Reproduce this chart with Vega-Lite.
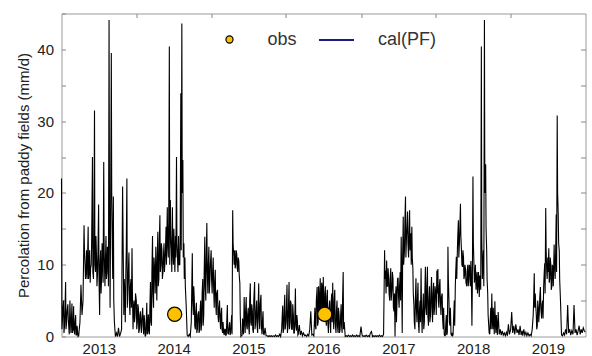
{
"$schema": "https://vega.github.io/schema/vega-lite/v6.json",
"width": 524, "height": 323,
"autosize": {"type": "none"},
"padding": {"left": 61.5, "top": 13.5, "right": 6.5, "bottom": 19.5},
"background": "white",
"config": {
  "view": {"stroke": "#9a9a9a", "strokeWidth": 1},
  "font": "Liberation Sans",
  "axis": {"labelFont": "Liberation Sans", "titleFont": "Liberation Sans", "labelColor": "#222", "titleColor": "#222", "tickColor": "#888", "domain": false, "grid": false}
},
"datasets": {
"cal": [
{"date":"2013-01-01","perc":22},{"date":"2013-01-06","perc":2.5},{"date":"2013-01-11","perc":5},{"date":"2013-01-16","perc":1.5},{"date":"2013-01-21","perc":7.6},{"date":"2013-01-26","perc":2},
{"date":"2013-02-01","perc":4.5},{"date":"2013-02-06","perc":1},{"date":"2013-02-11","perc":5},{"date":"2013-02-16","perc":0.5},{"date":"2013-02-21","perc":4.6},{"date":"2013-02-26","perc":1},
{"date":"2013-03-01","perc":4.2},{"date":"2013-03-06","perc":0.3},{"date":"2013-03-11","perc":3},{"date":"2013-03-16","perc":0.2},{"date":"2013-03-21","perc":0.5},{"date":"2013-03-26","perc":0.1},
{"date":"2013-04-01","perc":2},{"date":"2013-04-06","perc":7.2},{"date":"2013-04-11","perc":3},{"date":"2013-04-16","perc":5},{"date":"2013-04-21","perc":15.5},{"date":"2013-04-26","perc":10},
{"date":"2013-05-01","perc":9},{"date":"2013-05-06","perc":8},{"date":"2013-05-11","perc":15.3},{"date":"2013-05-16","perc":9},{"date":"2013-05-21","perc":7.5},{"date":"2013-05-26","perc":10},
{"date":"2013-06-01","perc":25},{"date":"2013-06-06","perc":8},{"date":"2013-06-11","perc":31.5},{"date":"2013-06-16","perc":9},{"date":"2013-06-21","perc":11},{"date":"2013-06-26","perc":9},
{"date":"2013-07-01","perc":18.4},{"date":"2013-07-06","perc":3},{"date":"2013-07-11","perc":12},{"date":"2013-07-16","perc":8.5},{"date":"2013-07-21","perc":10},{"date":"2013-07-26","perc":24.3},
{"date":"2013-08-01","perc":7},{"date":"2013-08-06","perc":14},{"date":"2013-08-11","perc":9},{"date":"2013-08-16","perc":11},{"date":"2013-08-21","perc":44.1},{"date":"2013-08-26","perc":4},
{"date":"2013-09-01","perc":39.5},{"date":"2013-09-06","perc":12},{"date":"2013-09-11","perc":19.5},{"date":"2013-09-16","perc":2},{"date":"2013-09-21","perc":0},{"date":"2013-09-26","perc":0.5},
{"date":"2013-10-01","perc":0},{"date":"2013-10-06","perc":1.2},{"date":"2013-10-11","perc":0},{"date":"2013-10-16","perc":0.4},{"date":"2013-10-21","perc":1},{"date":"2013-10-26","perc":20.9},
{"date":"2013-11-01","perc":3},{"date":"2013-11-06","perc":6},{"date":"2013-11-11","perc":9},{"date":"2013-11-16","perc":22},{"date":"2013-11-21","perc":7},{"date":"2013-11-26","perc":11.7},
{"date":"2013-12-01","perc":3},{"date":"2013-12-06","perc":8},{"date":"2013-12-11","perc":12.3},{"date":"2013-12-16","perc":1},{"date":"2013-12-21","perc":5},{"date":"2013-12-26","perc":3},
{"date":"2014-01-01","perc":5},{"date":"2014-01-06","perc":2},{"date":"2014-01-11","perc":4},{"date":"2014-01-16","perc":1},{"date":"2014-01-21","perc":3.5},{"date":"2014-01-26","perc":0.5},
{"date":"2014-02-01","perc":4},{"date":"2014-02-06","perc":0.3},{"date":"2014-02-11","perc":2},{"date":"2014-02-16","perc":0.2},{"date":"2014-02-21","perc":4.7},{"date":"2014-02-26","perc":0.5},
{"date":"2014-03-01","perc":3},{"date":"2014-03-06","perc":0.3},{"date":"2014-03-11","perc":7.6},{"date":"2014-03-16","perc":1.5},{"date":"2014-03-21","perc":14},{"date":"2014-03-26","perc":4},
{"date":"2014-04-01","perc":9},{"date":"2014-04-06","perc":12.5},{"date":"2014-04-11","perc":5},{"date":"2014-04-16","perc":14.6},{"date":"2014-04-21","perc":8},{"date":"2014-04-26","perc":16.9},
{"date":"2014-05-01","perc":10},{"date":"2014-05-06","perc":12},{"date":"2014-05-11","perc":9},{"date":"2014-05-16","perc":13},{"date":"2014-05-21","perc":10.5},{"date":"2014-05-26","perc":15.3},
{"date":"2014-06-01","perc":18},{"date":"2014-06-06","perc":11},{"date":"2014-06-11","perc":40.4},{"date":"2014-06-16","perc":19},{"date":"2014-06-21","perc":12},{"date":"2014-06-26","perc":18},
{"date":"2014-07-01","perc":10},{"date":"2014-07-06","perc":11.5},{"date":"2014-07-11","perc":14},{"date":"2014-07-16","perc":25},{"date":"2014-07-21","perc":11},{"date":"2014-07-26","perc":14},
{"date":"2014-08-01","perc":10},{"date":"2014-08-06","perc":33.9},{"date":"2014-08-11","perc":43.6},{"date":"2014-08-16","perc":24.6},{"date":"2014-08-21","perc":13},{"date":"2014-08-26","perc":11},
{"date":"2014-09-01","perc":4.5},{"date":"2014-09-06","perc":0.2},{"date":"2014-09-11","perc":0},{"date":"2014-09-16","perc":0.3},{"date":"2014-09-21","perc":0},{"date":"2014-09-26","perc":2},
{"date":"2014-10-01","perc":11.6},{"date":"2014-10-06","perc":3},{"date":"2014-10-11","perc":5},{"date":"2014-10-16","perc":1},{"date":"2014-10-21","perc":4.7},{"date":"2014-10-26","perc":1},
{"date":"2014-11-01","perc":3.5},{"date":"2014-11-06","perc":1},{"date":"2014-11-11","perc":5},{"date":"2014-11-16","perc":2},{"date":"2014-11-21","perc":8},{"date":"2014-11-26","perc":3},
{"date":"2014-12-01","perc":13.9},{"date":"2014-12-06","perc":5},{"date":"2014-12-11","perc":15.8},{"date":"2014-12-16","perc":6},{"date":"2014-12-21","perc":12.5},{"date":"2014-12-26","perc":8},
{"date":"2015-01-01","perc":12},{"date":"2015-01-06","perc":6},{"date":"2015-01-11","perc":11},{"date":"2015-01-16","perc":4},{"date":"2015-01-21","perc":9.3},{"date":"2015-01-26","perc":3},
{"date":"2015-02-01","perc":6.5},{"date":"2015-02-06","perc":2},{"date":"2015-02-11","perc":5},{"date":"2015-02-16","perc":1},{"date":"2015-02-21","perc":4},{"date":"2015-02-26","perc":0.5},
{"date":"2015-03-01","perc":1.5},{"date":"2015-03-06","perc":0.2},{"date":"2015-03-11","perc":1},{"date":"2015-03-16","perc":0.3},{"date":"2015-03-21","perc":4.4},{"date":"2015-03-26","perc":0.3},
{"date":"2015-04-01","perc":2},{"date":"2015-04-06","perc":0.5},{"date":"2015-04-11","perc":3},{"date":"2015-04-16","perc":17.6},{"date":"2015-04-21","perc":11.5},{"date":"2015-04-26","perc":12},
{"date":"2015-05-01","perc":10},{"date":"2015-05-06","perc":11.5},{"date":"2015-05-11","perc":9},{"date":"2015-05-16","perc":10.5},{"date":"2015-05-21","perc":7.4},{"date":"2015-05-26","perc":0},
{"date":"2015-06-01","perc":0.2},{"date":"2015-06-06","perc":1},{"date":"2015-06-11","perc":5.5},{"date":"2015-06-16","perc":0.5},{"date":"2015-06-21","perc":5.5},{"date":"2015-06-26","perc":1},
{"date":"2015-07-01","perc":4},{"date":"2015-07-06","perc":0.3},{"date":"2015-07-11","perc":7.4},{"date":"2015-07-16","perc":1.5},{"date":"2015-07-21","perc":3.5},{"date":"2015-07-26","perc":0.5},
{"date":"2015-08-01","perc":7.6},{"date":"2015-08-06","perc":2},{"date":"2015-08-11","perc":5},{"date":"2015-08-16","perc":0.5},{"date":"2015-08-21","perc":7.4},{"date":"2015-08-26","perc":1},
{"date":"2015-09-01","perc":5.8},{"date":"2015-09-06","perc":0.3},{"date":"2015-09-11","perc":3.5},{"date":"2015-09-16","perc":0.2},{"date":"2015-09-21","perc":1.2},{"date":"2015-09-26","perc":0.1},
{"date":"2015-10-01","perc":0.1},{"date":"2015-10-06","perc":0},{"date":"2015-10-11","perc":0.1},{"date":"2015-10-16","perc":0},{"date":"2015-10-21","perc":0.1},{"date":"2015-10-26","perc":0},
{"date":"2015-11-01","perc":0.1},{"date":"2015-11-06","perc":0},{"date":"2015-11-11","perc":0.2},{"date":"2015-11-16","perc":0},{"date":"2015-11-21","perc":0.1},{"date":"2015-11-26","perc":0},
{"date":"2015-12-01","perc":0.3},{"date":"2015-12-06","perc":0},{"date":"2015-12-11","perc":1},{"date":"2015-12-16","perc":4.3},{"date":"2015-12-21","perc":1},{"date":"2015-12-26","perc":5.8},
{"date":"2016-01-01","perc":2},{"date":"2016-01-06","perc":7.2},{"date":"2016-01-11","perc":1.5},{"date":"2016-01-16","perc":7.6},{"date":"2016-01-21","perc":2},{"date":"2016-01-26","perc":4.6},
{"date":"2016-02-01","perc":1},{"date":"2016-02-06","perc":3},{"date":"2016-02-11","perc":0.5},{"date":"2016-02-16","perc":6.7},{"date":"2016-02-21","perc":0.8},{"date":"2016-02-26","perc":2},
{"date":"2016-03-01","perc":0.3},{"date":"2016-03-06","perc":1.6},{"date":"2016-03-11","perc":0.2},{"date":"2016-03-16","perc":0.8},{"date":"2016-03-21","perc":0.1},{"date":"2016-03-26","perc":0.5},
{"date":"2016-04-01","perc":0.1},{"date":"2016-04-06","perc":0.2},{"date":"2016-04-11","perc":0},{"date":"2016-04-16","perc":0.3},{"date":"2016-04-21","perc":0.1},{"date":"2016-04-26","perc":1},
{"date":"2016-05-01","perc":3.5},{"date":"2016-05-06","perc":0.2},{"date":"2016-05-11","perc":0.3},{"date":"2016-05-16","perc":0.1},{"date":"2016-05-21","perc":4},{"date":"2016-05-26","perc":1},
{"date":"2016-06-01","perc":6.9},{"date":"2016-06-06","perc":2},{"date":"2016-06-11","perc":5},{"date":"2016-06-16","perc":8.1},{"date":"2016-06-21","perc":3},{"date":"2016-06-26","perc":6.9},
{"date":"2016-07-01","perc":8.3},{"date":"2016-07-06","perc":2},{"date":"2016-07-11","perc":7},{"date":"2016-07-16","perc":1.5},{"date":"2016-07-21","perc":6.5},{"date":"2016-07-26","perc":0.5},
{"date":"2016-08-01","perc":5},{"date":"2016-08-06","perc":0.5},{"date":"2016-08-11","perc":6},{"date":"2016-08-16","perc":7.5},{"date":"2016-08-21","perc":1},{"date":"2016-08-26","perc":6.5},
{"date":"2016-09-01","perc":0.5},{"date":"2016-09-06","perc":5},{"date":"2016-09-11","perc":0.5},{"date":"2016-09-16","perc":3},{"date":"2016-09-21","perc":1},{"date":"2016-09-26","perc":4.5},
{"date":"2016-10-01","perc":0.5},{"date":"2016-10-06","perc":9},{"date":"2016-10-11","perc":2},{"date":"2016-10-16","perc":0},{"date":"2016-10-21","perc":0.1},{"date":"2016-10-26","perc":0},
{"date":"2016-11-01","perc":0.2},{"date":"2016-11-06","perc":0},{"date":"2016-11-11","perc":0.1},{"date":"2016-11-16","perc":0},{"date":"2016-11-21","perc":0.2},{"date":"2016-11-26","perc":0},
{"date":"2016-12-01","perc":0.1},{"date":"2016-12-06","perc":0},{"date":"2016-12-11","perc":0.2},{"date":"2016-12-16","perc":0},{"date":"2016-12-21","perc":0.1},{"date":"2016-12-26","perc":0},
{"date":"2017-01-01","perc":1.4},{"date":"2017-01-06","perc":0.2},{"date":"2017-01-11","perc":0},{"date":"2017-01-16","perc":0.1},{"date":"2017-01-21","perc":0},{"date":"2017-01-26","perc":0.2},
{"date":"2017-02-01","perc":0},{"date":"2017-02-06","perc":0.1},{"date":"2017-02-11","perc":0},{"date":"2017-02-16","perc":0.5},{"date":"2017-02-21","perc":0.7},{"date":"2017-02-26","perc":0},
{"date":"2017-03-01","perc":0.1},{"date":"2017-03-06","perc":0},{"date":"2017-03-11","perc":0.1},{"date":"2017-03-16","perc":0},{"date":"2017-03-21","perc":0.1},{"date":"2017-03-26","perc":0},
{"date":"2017-04-01","perc":0.2},{"date":"2017-04-06","perc":0},{"date":"2017-04-11","perc":0.1},{"date":"2017-04-16","perc":0},{"date":"2017-04-21","perc":0.3},{"date":"2017-04-26","perc":12},
{"date":"2017-05-01","perc":9.2},{"date":"2017-05-06","perc":10.6},{"date":"2017-05-11","perc":7},{"date":"2017-05-16","perc":8},{"date":"2017-05-21","perc":5},{"date":"2017-05-26","perc":9.5},
{"date":"2017-06-01","perc":6.5},{"date":"2017-06-06","perc":8},{"date":"2017-06-11","perc":3.5},{"date":"2017-06-16","perc":0},{"date":"2017-06-21","perc":7},{"date":"2017-06-26","perc":5.5},
{"date":"2017-07-01","perc":8.2},{"date":"2017-07-06","perc":4},{"date":"2017-07-11","perc":9},{"date":"2017-07-16","perc":13.9},{"date":"2017-07-21","perc":0.5},{"date":"2017-07-26","perc":16.7},
{"date":"2017-08-01","perc":12},{"date":"2017-08-06","perc":19.5},{"date":"2017-08-11","perc":14},{"date":"2017-08-16","perc":17.4},{"date":"2017-08-21","perc":11},{"date":"2017-08-26","perc":17.6},
{"date":"2017-09-01","perc":14.4},{"date":"2017-09-06","perc":15.3},{"date":"2017-09-11","perc":9.5},{"date":"2017-09-16","perc":4.4},{"date":"2017-09-21","perc":1},{"date":"2017-09-26","perc":8.1},
{"date":"2017-10-01","perc":2},{"date":"2017-10-06","perc":7.5},{"date":"2017-10-11","perc":0.5},{"date":"2017-10-16","perc":5},{"date":"2017-10-21","perc":9.5},{"date":"2017-10-26","perc":0.5},
{"date":"2017-11-01","perc":6},{"date":"2017-11-06","perc":2},{"date":"2017-11-11","perc":9.7},{"date":"2017-11-16","perc":3},{"date":"2017-11-21","perc":9.7},{"date":"2017-11-26","perc":1.5},
{"date":"2017-12-01","perc":7},{"date":"2017-12-06","perc":3},{"date":"2017-12-11","perc":8.3},{"date":"2017-12-16","perc":2},{"date":"2017-12-21","perc":7.5},{"date":"2017-12-26","perc":4},
{"date":"2018-01-01","perc":6},{"date":"2018-01-06","perc":9.2},{"date":"2018-01-11","perc":9.4},{"date":"2018-01-16","perc":4},{"date":"2018-01-21","perc":8},{"date":"2018-01-26","perc":3},
{"date":"2018-02-01","perc":6},{"date":"2018-02-06","perc":1},{"date":"2018-02-11","perc":0.3},{"date":"2018-02-16","perc":0.1},{"date":"2018-02-21","perc":3},{"date":"2018-02-26","perc":0.5},
{"date":"2018-03-01","perc":12.5},{"date":"2018-03-06","perc":5},{"date":"2018-03-11","perc":1.5},{"date":"2018-03-16","perc":0.3},{"date":"2018-03-21","perc":0.5},{"date":"2018-03-26","perc":0.2},
{"date":"2018-04-01","perc":5},{"date":"2018-04-06","perc":7},{"date":"2018-04-11","perc":11.1},{"date":"2018-04-16","perc":12},{"date":"2018-04-21","perc":16.2},{"date":"2018-04-26","perc":13},
{"date":"2018-05-01","perc":18.5},{"date":"2018-05-06","perc":12},{"date":"2018-05-11","perc":9.7},{"date":"2018-05-16","perc":11},{"date":"2018-05-21","perc":8.5},{"date":"2018-05-26","perc":9.3},
{"date":"2018-06-01","perc":7},{"date":"2018-06-06","perc":10},{"date":"2018-06-11","perc":8},{"date":"2018-06-16","perc":9.5},{"date":"2018-06-21","perc":10.5},{"date":"2018-06-26","perc":1.5},
{"date":"2018-07-01","perc":22.3},{"date":"2018-07-06","perc":10},{"date":"2018-07-11","perc":8.5},{"date":"2018-07-16","perc":6.5},{"date":"2018-07-21","perc":9},{"date":"2018-07-26","perc":7.5},
{"date":"2018-08-01","perc":5.5},{"date":"2018-08-06","perc":8},{"date":"2018-08-11","perc":40.4},{"date":"2018-08-16","perc":8},{"date":"2018-08-21","perc":12},{"date":"2018-08-26","perc":44.1},
{"date":"2018-09-01","perc":24},{"date":"2018-09-06","perc":12},{"date":"2018-09-11","perc":6},{"date":"2018-09-16","perc":1.5},{"date":"2018-09-21","perc":0.3},{"date":"2018-09-26","perc":4},
{"date":"2018-10-01","perc":6},{"date":"2018-10-06","perc":1},{"date":"2018-10-11","perc":2},{"date":"2018-10-16","perc":4.9},{"date":"2018-10-21","perc":0.5},{"date":"2018-10-26","perc":1.5},
{"date":"2018-11-01","perc":3.4},{"date":"2018-11-06","perc":0.3},{"date":"2018-11-11","perc":1},{"date":"2018-11-16","perc":0.2},{"date":"2018-11-21","perc":0.8},{"date":"2018-11-26","perc":0.2},
{"date":"2018-12-01","perc":0.5},{"date":"2018-12-06","perc":0.1},{"date":"2018-12-11","perc":0.6},{"date":"2018-12-16","perc":0.1},{"date":"2018-12-21","perc":1.7},{"date":"2018-12-26","perc":0.3},
{"date":"2019-01-01","perc":1},{"date":"2019-01-06","perc":3.4},{"date":"2019-01-11","perc":0.5},{"date":"2019-01-16","perc":1.5},{"date":"2019-01-21","perc":0.3},{"date":"2019-01-26","perc":1.7},
{"date":"2019-02-01","perc":0.5},{"date":"2019-02-06","perc":1},{"date":"2019-02-11","perc":0.2},{"date":"2019-02-16","perc":1.5},{"date":"2019-02-21","perc":0.2},{"date":"2019-02-26","perc":0.8},
{"date":"2019-03-01","perc":0.1},{"date":"2019-03-06","perc":1},{"date":"2019-03-11","perc":0.2},{"date":"2019-03-16","perc":0.6},{"date":"2019-03-21","perc":0.1},{"date":"2019-03-26","perc":0.5},
{"date":"2019-04-01","perc":0.1},{"date":"2019-04-06","perc":0.3},{"date":"2019-04-11","perc":0.1},{"date":"2019-04-16","perc":1},{"date":"2019-04-21","perc":3},{"date":"2019-04-26","perc":8.8},
{"date":"2019-05-01","perc":6},{"date":"2019-05-06","perc":3},{"date":"2019-05-11","perc":1.5},{"date":"2019-05-16","perc":4},{"date":"2019-05-21","perc":3.5},{"date":"2019-05-26","perc":6.9},
{"date":"2019-06-01","perc":2.5},{"date":"2019-06-06","perc":5},{"date":"2019-06-11","perc":7},{"date":"2019-06-16","perc":10.2},{"date":"2019-06-21","perc":17.9},{"date":"2019-06-26","perc":9},
{"date":"2019-07-01","perc":11},{"date":"2019-07-06","perc":12.3},{"date":"2019-07-11","perc":8},{"date":"2019-07-16","perc":10},{"date":"2019-07-21","perc":7},{"date":"2019-07-26","perc":9.5},
{"date":"2019-08-01","perc":12.8},{"date":"2019-08-06","perc":8},{"date":"2019-08-11","perc":17},{"date":"2019-08-16","perc":30.8},{"date":"2019-08-21","perc":17},{"date":"2019-08-26","perc":12},
{"date":"2019-09-01","perc":5},{"date":"2019-09-06","perc":0.2},{"date":"2019-09-11","perc":0.1},{"date":"2019-09-16","perc":0.5},{"date":"2019-09-21","perc":0.2},{"date":"2019-09-26","perc":1},
{"date":"2019-10-01","perc":0.3},{"date":"2019-10-06","perc":4.4},{"date":"2019-10-11","perc":0.5},{"date":"2019-10-16","perc":1},{"date":"2019-10-21","perc":0.2},{"date":"2019-10-26","perc":0.8},
{"date":"2019-11-01","perc":0.3},{"date":"2019-11-06","perc":4.4},{"date":"2019-11-11","perc":0.5},{"date":"2019-11-16","perc":1},{"date":"2019-11-21","perc":0.2},{"date":"2019-11-26","perc":0.8},
{"date":"2019-12-01","perc":1.5},{"date":"2019-12-06","perc":0.3},{"date":"2019-12-11","perc":1},{"date":"2019-12-16","perc":0.5},{"date":"2019-12-21","perc":1.2},{"date":"2019-12-26","perc":0.8},{"date":"2019-12-31","perc":0.6},
{"date":"2013-01-03","perc":1},{"date":"2013-01-08","perc":4},{"date":"2013-01-13","perc":0.5},{"date":"2013-01-18","perc":3.5},{"date":"2013-01-23","perc":1},{"date":"2013-01-28","perc":3.5},
{"date":"2013-02-03","perc":2.5},{"date":"2013-02-08","perc":0.3},{"date":"2013-02-13","perc":3},{"date":"2013-02-18","perc":2},{"date":"2013-02-23","perc":0.5},{"date":"2013-02-28","perc":3},
{"date":"2013-03-03","perc":1},{"date":"2013-03-08","perc":2},{"date":"2013-03-13","perc":0.2},{"date":"2013-03-18","perc":1.5},{"date":"2013-03-23","perc":0},{"date":"2013-03-28","perc":0.8},
{"date":"2013-04-23","perc":12},{"date":"2013-04-28","perc":8},
{"date":"2013-05-03","perc":12},{"date":"2013-05-08","perc":10.5},{"date":"2013-05-13","perc":8},{"date":"2013-05-18","perc":12},{"date":"2013-05-23","perc":9.5},{"date":"2013-05-28","perc":13},
{"date":"2013-06-03","perc":9},{"date":"2013-06-08","perc":13},{"date":"2013-06-13","perc":10},{"date":"2013-06-18","perc":14},{"date":"2013-06-23","perc":7},{"date":"2013-06-28","perc":12},
{"date":"2013-07-03","perc":8},{"date":"2013-07-08","perc":10},{"date":"2013-07-13","perc":6},{"date":"2013-07-18","perc":13},{"date":"2013-07-23","perc":7.5},{"date":"2013-07-28","perc":12},
{"date":"2013-08-03","perc":10},{"date":"2013-08-08","perc":8},{"date":"2013-08-13","perc":12.5},{"date":"2013-08-18","perc":7},{"date":"2013-08-23","perc":18},{"date":"2013-08-28","perc":14},
{"date":"2013-09-03","perc":20},{"date":"2013-09-08","perc":8},{"date":"2013-09-13","perc":5},
{"date":"2013-11-03","perc":8},{"date":"2013-11-08","perc":2},{"date":"2013-11-13","perc":12},{"date":"2013-11-18","perc":4},{"date":"2013-11-23","perc":9},{"date":"2013-11-28","perc":5},
{"date":"2013-12-03","perc":7},{"date":"2013-12-08","perc":4},{"date":"2013-12-13","perc":6},{"date":"2013-12-18","perc":4},{"date":"2013-12-23","perc":2},{"date":"2013-12-28","perc":6},
{"date":"2014-01-03","perc":1},{"date":"2014-01-08","perc":4.5},{"date":"2014-01-13","perc":0.5},{"date":"2014-01-18","perc":3},{"date":"2014-01-23","perc":1.5},{"date":"2014-01-28","perc":2.5},
{"date":"2014-02-03","perc":1.5},{"date":"2014-02-08","perc":3},{"date":"2014-02-13","perc":0},{"date":"2014-02-18","perc":1.5},{"date":"2014-02-23","perc":0.3},{"date":"2014-02-28","perc":3},
{"date":"2014-03-03","perc":1},{"date":"2014-03-08","perc":4},{"date":"2014-03-13","perc":2},{"date":"2014-03-18","perc":9},{"date":"2014-03-23","perc":6},{"date":"2014-03-28","perc":11},
{"date":"2014-04-03","perc":6},{"date":"2014-04-08","perc":9},{"date":"2014-04-13","perc":11},{"date":"2014-04-18","perc":7},{"date":"2014-04-23","perc":13},{"date":"2014-04-28","perc":9},
{"date":"2014-05-03","perc":13},{"date":"2014-05-08","perc":8},{"date":"2014-05-13","perc":11},{"date":"2014-05-18","perc":9},{"date":"2014-05-23","perc":12},{"date":"2014-05-28","perc":10},
{"date":"2014-06-03","perc":13},{"date":"2014-06-08","perc":16},{"date":"2014-06-13","perc":10},{"date":"2014-06-18","perc":14},{"date":"2014-06-23","perc":9},{"date":"2014-06-28","perc":12},
{"date":"2014-07-03","perc":15},{"date":"2014-07-08","perc":9},{"date":"2014-07-13","perc":11},{"date":"2014-07-18","perc":13},{"date":"2014-07-23","perc":9},{"date":"2014-07-28","perc":10},
{"date":"2014-08-03","perc":14},{"date":"2014-08-08","perc":12},{"date":"2014-08-13","perc":20},{"date":"2014-08-18","perc":11},{"date":"2014-08-23","perc":8},{"date":"2014-08-28","perc":7},
{"date":"2014-10-03","perc":5},{"date":"2014-10-08","perc":7},{"date":"2014-10-13","perc":1.5},{"date":"2014-10-18","perc":3.5},{"date":"2014-10-23","perc":0.5},{"date":"2014-10-28","perc":3},
{"date":"2014-11-03","perc":0.5},{"date":"2014-11-08","perc":3.5},{"date":"2014-11-13","perc":0.8},{"date":"2014-11-18","perc":6},{"date":"2014-11-23","perc":1.5},{"date":"2014-11-28","perc":9},
{"date":"2014-12-03","perc":7},{"date":"2014-12-08","perc":11},{"date":"2014-12-13","perc":9},{"date":"2014-12-18","perc":10},{"date":"2014-12-23","perc":6},{"date":"2014-12-28","perc":10},
{"date":"2015-01-03","perc":8},{"date":"2015-01-08","perc":9},{"date":"2015-01-13","perc":7},{"date":"2015-01-18","perc":7.5},{"date":"2015-01-23","perc":5},{"date":"2015-01-28","perc":6},
{"date":"2015-02-03","perc":3},{"date":"2015-02-08","perc":4},{"date":"2015-02-13","perc":2.5},{"date":"2015-02-18","perc":3},{"date":"2015-02-23","perc":1},{"date":"2015-02-28","perc":2},
{"date":"2015-03-03","perc":0.5},{"date":"2015-03-08","perc":1},{"date":"2015-03-13","perc":0.1},{"date":"2015-03-18","perc":2},{"date":"2015-03-23","perc":0.5},{"date":"2015-03-28","perc":1},
{"date":"2015-04-03","perc":0.2},{"date":"2015-04-08","perc":1.5},{"date":"2015-04-13","perc":0.3},{"date":"2015-04-18","perc":13},{"date":"2015-04-23","perc":10},{"date":"2015-04-28","perc":9.5},
{"date":"2015-05-03","perc":12},{"date":"2015-05-08","perc":9.5},{"date":"2015-05-13","perc":11},{"date":"2015-05-18","perc":8.5},{"date":"2015-05-23","perc":3},
{"date":"2015-06-03","perc":2.5},{"date":"2015-06-08","perc":0.3},{"date":"2015-06-13","perc":2.5},{"date":"2015-06-18","perc":3.5},{"date":"2015-06-23","perc":1.5},{"date":"2015-06-28","perc":3},
{"date":"2015-07-03","perc":1.5},{"date":"2015-07-08","perc":5},{"date":"2015-07-13","perc":2},{"date":"2015-07-18","perc":4.5},{"date":"2015-07-23","perc":1},{"date":"2015-07-28","perc":5},
{"date":"2015-08-03","perc":1},{"date":"2015-08-08","perc":3.5},{"date":"2015-08-13","perc":1.5},{"date":"2015-08-18","perc":4},{"date":"2015-08-23","perc":2.5},{"date":"2015-08-28","perc":4.5},
{"date":"2015-09-03","perc":1.5},{"date":"2015-09-08","perc":2},{"date":"2015-09-13","perc":0.5},
{"date":"2015-12-13","perc":2.5},{"date":"2015-12-18","perc":0.5},{"date":"2015-12-23","perc":3.5},{"date":"2015-12-28","perc":1},
{"date":"2016-01-03","perc":4},{"date":"2016-01-08","perc":0.5},{"date":"2016-01-13","perc":4},{"date":"2016-01-18","perc":1},{"date":"2016-01-23","perc":5},{"date":"2016-01-28","perc":1},
{"date":"2016-02-03","perc":4.5},{"date":"2016-02-08","perc":0.5},{"date":"2016-02-13","perc":2.5},{"date":"2016-02-18","perc":1.5},{"date":"2016-02-23","perc":3},{"date":"2016-02-28","perc":0.2},
{"date":"2016-05-23","perc":1.5},{"date":"2016-05-28","perc":5},
{"date":"2016-06-03","perc":1.5},{"date":"2016-06-08","perc":7},{"date":"2016-06-13","perc":3},{"date":"2016-06-18","perc":4},{"date":"2016-06-23","perc":7.5},{"date":"2016-06-28","perc":2.5},
{"date":"2016-07-03","perc":4},{"date":"2016-07-08","perc":6},{"date":"2016-07-13","perc":2.5},{"date":"2016-07-18","perc":5.5},{"date":"2016-07-23","perc":2},{"date":"2016-07-28","perc":3.5},
{"date":"2016-08-03","perc":2},{"date":"2016-08-08","perc":4.5},{"date":"2016-08-13","perc":2},{"date":"2016-08-18","perc":3},{"date":"2016-08-23","perc":5},{"date":"2016-08-28","perc":2},
{"date":"2016-09-03","perc":3.5},{"date":"2016-09-08","perc":1.5},{"date":"2016-09-13","perc":4},{"date":"2016-09-18","perc":0.5},{"date":"2016-09-23","perc":2.5},{"date":"2016-09-28","perc":1.5},
{"date":"2016-10-03","perc":5},{"date":"2016-10-08","perc":1},
{"date":"2017-04-28","perc":8},
{"date":"2017-05-03","perc":6},{"date":"2017-05-08","perc":7},{"date":"2017-05-13","perc":9.5},{"date":"2017-05-18","perc":6},{"date":"2017-05-23","perc":8},{"date":"2017-05-28","perc":5},
{"date":"2017-06-03","perc":9},{"date":"2017-06-08","perc":4},{"date":"2017-06-13","perc":6},{"date":"2017-06-18","perc":5.5},{"date":"2017-06-23","perc":2},{"date":"2017-06-28","perc":8},
{"date":"2017-07-03","perc":5.5},{"date":"2017-07-08","perc":7},{"date":"2017-07-13","perc":5},{"date":"2017-07-18","perc":9},{"date":"2017-07-23","perc":11},{"date":"2017-07-28","perc":10},
{"date":"2017-08-03","perc":16},{"date":"2017-08-08","perc":11},{"date":"2017-08-13","perc":15},{"date":"2017-08-18","perc":13},{"date":"2017-08-23","perc":14},{"date":"2017-08-28","perc":12},
{"date":"2017-09-03","perc":10},{"date":"2017-09-08","perc":11},{"date":"2017-09-13","perc":6},{"date":"2017-09-18","perc":2},{"date":"2017-09-23","perc":5},{"date":"2017-09-28","perc":4},
{"date":"2017-10-03","perc":5},{"date":"2017-10-08","perc":2},{"date":"2017-10-13","perc":3.5},{"date":"2017-10-18","perc":2},{"date":"2017-10-23","perc":4},{"date":"2017-10-28","perc":3},
{"date":"2017-11-03","perc":1},{"date":"2017-11-08","perc":5.5},{"date":"2017-11-13","perc":4},{"date":"2017-11-18","perc":7},{"date":"2017-11-23","perc":3},{"date":"2017-11-28","perc":5},
{"date":"2017-12-03","perc":2},{"date":"2017-12-08","perc":6},{"date":"2017-12-13","perc":4},{"date":"2017-12-18","perc":6},{"date":"2017-12-23","perc":3},{"date":"2017-12-28","perc":7},
{"date":"2018-01-03","perc":3},{"date":"2018-01-08","perc":6},{"date":"2018-01-13","perc":5},{"date":"2018-01-18","perc":7},{"date":"2018-01-23","perc":5},{"date":"2018-01-28","perc":5.5},
{"date":"2018-02-03","perc":2.5},{"date":"2018-02-08","perc":4},{"date":"2018-02-13","perc":0.1},{"date":"2018-02-18","perc":1.5},{"date":"2018-02-23","perc":0.2},{"date":"2018-02-28","perc":6},
{"date":"2018-03-03","perc":8},{"date":"2018-03-08","perc":2},{"date":"2018-03-13","perc":4},{"date":"2018-03-18","perc":0.2},{"date":"2018-03-23","perc":0.1},{"date":"2018-03-28","perc":2},
{"date":"2018-04-03","perc":1.5},{"date":"2018-04-08","perc":9},{"date":"2018-04-13","perc":8},{"date":"2018-04-18","perc":14},{"date":"2018-04-23","perc":11},{"date":"2018-04-28","perc":15},
{"date":"2018-05-03","perc":14},{"date":"2018-05-08","perc":10},{"date":"2018-05-13","perc":12},{"date":"2018-05-18","perc":8},{"date":"2018-05-23","perc":10},{"date":"2018-05-28","perc":7.5},
{"date":"2018-06-03","perc":9},{"date":"2018-06-08","perc":7},{"date":"2018-06-13","perc":10},{"date":"2018-06-18","perc":7},{"date":"2018-06-23","perc":8.5},{"date":"2018-06-28","perc":7},
{"date":"2018-07-03","perc":13},{"date":"2018-07-08","perc":7.5},{"date":"2018-07-13","perc":10},{"date":"2018-07-18","perc":8},{"date":"2018-07-23","perc":6},{"date":"2018-07-28","perc":9},
{"date":"2018-08-03","perc":8.5},{"date":"2018-08-08","perc":6.5},{"date":"2018-08-13","perc":14},{"date":"2018-08-18","perc":10},{"date":"2018-08-23","perc":7},{"date":"2018-08-28","perc":20},
{"date":"2018-09-03","perc":15},{"date":"2018-09-08","perc":8},{"date":"2018-09-13","perc":3},{"date":"2018-09-18","perc":0.5},{"date":"2018-09-23","perc":2},{"date":"2018-09-28","perc":1},
{"date":"2018-10-03","perc":2.5},{"date":"2018-10-08","perc":4},{"date":"2018-10-13","perc":0.3},{"date":"2018-10-18","perc":2},{"date":"2018-10-23","perc":3},{"date":"2018-10-28","perc":0.2},
{"date":"2019-04-23","perc":5},{"date":"2019-04-28","perc":4},
{"date":"2019-05-03","perc":4.5},{"date":"2019-05-08","perc":1},{"date":"2019-05-13","perc":5},{"date":"2019-05-18","perc":2},{"date":"2019-05-23","perc":5.5},{"date":"2019-05-28","perc":4},
{"date":"2019-06-03","perc":4.5},{"date":"2019-06-08","perc":2.5},{"date":"2019-06-13","perc":8.5},{"date":"2019-06-18","perc":6},{"date":"2019-06-23","perc":12},{"date":"2019-06-28","perc":8},
{"date":"2019-07-03","perc":9},{"date":"2019-07-08","perc":7.5},{"date":"2019-07-13","perc":11},{"date":"2019-07-18","perc":6.5},{"date":"2019-07-23","perc":10},{"date":"2019-07-28","perc":7},
{"date":"2019-08-03","perc":10},{"date":"2019-08-08","perc":11},{"date":"2019-08-13","perc":9},{"date":"2019-08-18","perc":20},{"date":"2019-08-23","perc":13},{"date":"2019-08-28","perc":8}
],
"obs": [
{"date":"2014-07-07","perc":3.1},
{"date":"2016-07-08","perc":3.1}
],
"legendline": [
{"date":"2016-01-01","perc":0}
]
},
"layer": [
{
  "data": {"name": "cal"},
  "mark": {"type": "line", "color": "black", "strokeWidth": 1.1},
  "encoding": {
    "x": {"field": "date", "type": "temporal",
      "scale": {"type": "utc", "domain": [{"year":2013,"month":1,"date":1,"utc":true},{"year":2020,"month":1,"date":1,"utc":true}]},
      "axis": {"orient": "bottom", "title": null, "ticks": false, "labelExpr": "utcFormat(datum.value, '%Y')", "labelFontSize": 15, "labelPadding": 5, "labelFlush": false, "labelOverlap": false,
        "values": [{"year":2013,"month":7,"date":2,"utc":true},{"year":2014,"month":7,"date":2,"utc":true},{"year":2015,"month":7,"date":2,"utc":true},{"year":2016,"month":7,"date":2,"utc":true},{"year":2017,"month":7,"date":2,"utc":true},{"year":2018,"month":7,"date":2,"utc":true},{"year":2019,"month":7,"date":2,"utc":true}]}},
    "y": {"field": "perc", "type": "quantitative",
      "scale": {"domain": [0, 45], "nice": false},
      "axis": {"orient": "left", "values": [0,5,10,15,20,25,30,35,40,45], "labelExpr": "datum.value % 10 === 0 ? datum.label : ''", "tickSize": -4, "labelPadding": 12, "labelFontSize": 15,
        "title": "Percolation from paddy fields (mm/d)", "titleFontSize": 15, "titleFontWeight": "normal", "titlePadding": 5}}
  }
},
{
  "data": {"name": "obs"},
  "mark": {"type": "point", "filled": true, "size": 200, "stroke": "black", "strokeWidth": 1.2, "opacity": 1},
  "encoding": {
    "x": {"field": "date", "type": "temporal",
      "axis": {"orient": "top", "title": null, "labels": false, "tickSize": -4,
        "values": [{"year":2014,"month":1,"date":1,"utc":true},{"year":2015,"month":1,"date":1,"utc":true},{"year":2016,"month":1,"date":1,"utc":true},{"year":2017,"month":1,"date":1,"utc":true},{"year":2018,"month":1,"date":1,"utc":true},{"year":2019,"month":1,"date":1,"utc":true}]}},
    "y": {"field": "perc", "type": "quantitative",
      "axis": {"orient": "right", "title": null, "labels": false, "tickSize": -5, "values": [5,10,15,20,25,30,35,40]}},
    "fill": {"datum": "obs", "type": "nominal", "scale": {"range": ["#FFC000"]},
      "legend": {"orient": "none", "legendX": 159, "legendY": 17, "title": null, "padding": 0, "symbolType": "circle", "symbolSize": 50, "symbolStrokeColor": "black", "symbolStrokeWidth": 1.2, "labelOffset": 29, "labelFontSize": 18, "labelFont": "Liberation Sans", "labelColor": "#333"}}
  }
},
{
  "data": {"name": "legendline"},
  "mark": {"type": "line", "strokeWidth": 2},
  "encoding": {
    "x": {"field": "date", "type": "temporal", "axis": null},
    "y": {"field": "perc", "type": "quantitative", "axis": null},
    "stroke": {"datum": "cal(PF)", "type": "nominal", "scale": {"range": ["#1a1a80"]},
      "legend": {"orient": "none", "legendX": 256.5, "legendY": 8, "title": null, "padding": 0, "symbolType": "stroke", "symbolSize": 1225, "symbolStrokeWidth": 2, "labelOffset": 23, "labelFontSize": 18, "labelFont": "Liberation Sans", "labelColor": "#333"}}
  }
}
],
"resolve": {"axis": {"x": "independent", "y": "independent"}}
}
